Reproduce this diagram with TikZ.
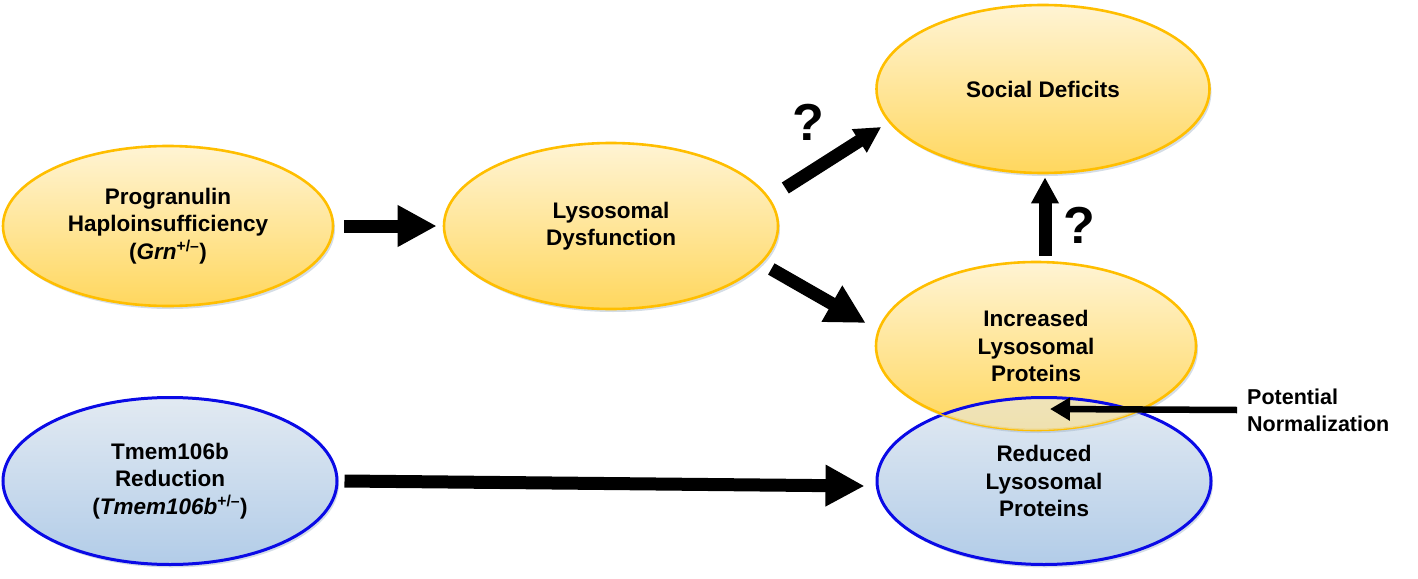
\documentclass[tikz,border=0pt]{standalone}
\usepackage{fontspec}
\setmainfont{Liberation Sans}
\usetikzlibrary{arrows.meta,shapes.geometric,shadows}
\definecolor{ybord}{HTML}{FFBE00}
\definecolor{ytop}{HTML}{FFF4D4}
\definecolor{ybot}{HTML}{FFD75E}
\definecolor{bbord}{HTML}{0A0AE6}
\definecolor{btop}{HTML}{E2EAF2}
\definecolor{bbot}{HTML}{B2CCE8}
\definecolor{shad}{HTML}{9FB3C8}
\tikzset{
  shd/.style={drop shadow={shadow xshift=2pt, shadow yshift=-3pt, fill=shad, opacity=0.45}},
  yell/.style={ellipse, draw=ybord, line width=2.6pt, top color=ytop, bottom color=ybot, inner sep=0pt, align=center, shd, font=\bfseries\fontsize{22.5}{27.5}\selectfont},
  blu/.style={ellipse, draw=bbord, line width=3pt, top color=btop, bottom color=bbot, inner sep=0pt, align=center, shd, font=\bfseries\fontsize{22.5}{27.5}\selectfont},
  bigarrow/.style={line width=13pt, -{Triangle[length=39pt,width=39pt]}},
  smallarrow/.style={line width=13pt, -{Triangle[length=26pt,width=26pt]}},
  thinarrow/.style={line width=6.5pt, -{Triangle[length=20pt,width=22pt]}},
  qmark/.style={font=\bfseries\fontsize{52}{60}\selectfont, inner sep=0pt},
  lbl/.style={font=\bfseries\fontsize{21.5}{27}\selectfont, align=left, inner sep=0pt}
}
\begin{document}
\begin{tikzpicture}[x=1pt,y=-1pt]
\useasboundingbox (0,0) rectangle (1418,578);
\node[yell, minimum width=330pt, minimum height=160pt] (prog) at (168,226) {Progranulin\\Haploinsufficiency\\(\textit{Grn}\textsuperscript{+/–})};
\node[yell, minimum width=334pt, minimum height=166pt] (lys) at (611,226) {Lysosomal\\Dysfunction};
\node[yell, minimum width=333pt, minimum height=168pt] (soc) at (1043,89) {Social Deficits};
\node[blu, minimum width=334pt, minimum height=167pt] (tmem) at (170,481) {Tmem106b\\Reduction\\(\textit{Tmem106b}\textsuperscript{+/–})};
\node[blu, minimum width=334pt, minimum height=167pt] (red) at (1044,481) {Reduced\\Lysosomal\\Proteins};
\node[yell, minimum width=320pt, minimum height=168pt] (inc) at (1036,346) {Increased\\Lysosomal\\Proteins};
% overlap: reduced seen through
\begin{scope}
\clip (inc.center) ellipse [x radius=160, y radius=84];
\fill[btop, fill opacity=0.55] (red.center) ellipse [x radius=167, y radius=83.5];
\draw[bbord, line width=3pt] (red.center) ellipse [x radius=167, y radius=83.5];
\end{scope}
\draw[bigarrow] ([xshift=10pt]prog.east) -- ([xshift=-6pt]lys.west);
\draw[bigarrow] ([xshift=6pt]tmem.east) -- ([shift={(-11,5)}]red.west);
\draw[smallarrow] ([shift={(6,-38)}]lys.east) -- ([shift={(6,38)}]soc.west);
\draw[bigarrow] ([shift={(-8,43)}]lys.east) -- ([shift={(-9,-23)}]inc.west);
\draw[smallarrow] ([shift={(9,-5)}]inc.north) -- ([shift={(2,3)}]soc.south);
\node[qmark] (q1) at (808,122) {?};
\node[qmark] (q2) at (1079,225) {?};
\node[lbl, anchor=west] (pn) at (1247,410) {Potential\\Normalization};
\coordinate (ntip) at (1050,409);
\draw[thinarrow] ([xshift=-10pt]pn.west) -- (ntip);
\end{tikzpicture}
\end{document}
